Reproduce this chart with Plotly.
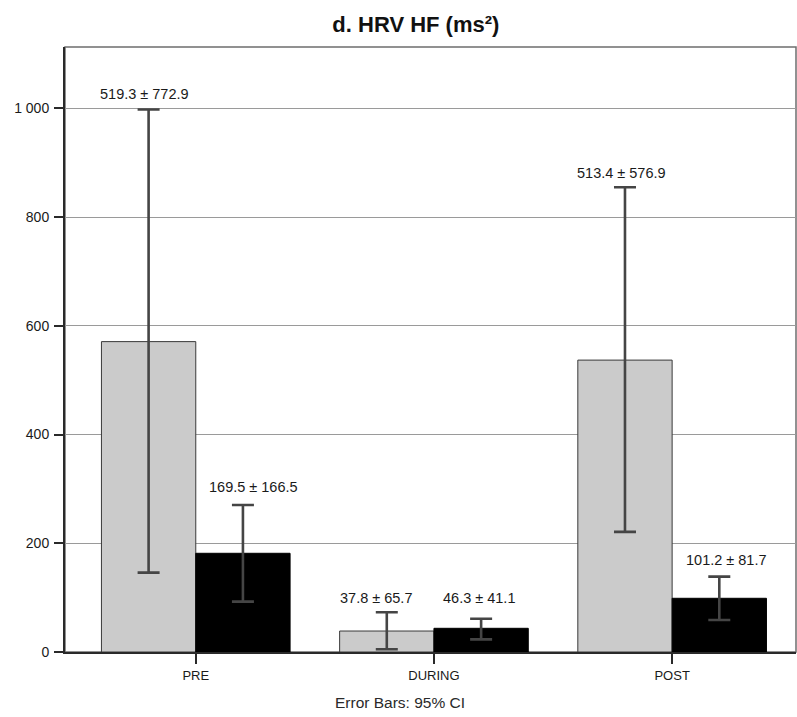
import plotly.graph_objects as go

# Measurement phases
categories = ["PRE", "DURING", "POST"]

# Grey series: bar heights and 95% CI bounds
grey_mean = [571.0, 38.6, 537.0]
grey_ci_high = [998.0, 73.0, 855.0]
grey_ci_low = [146.0, 5.0, 221.0]
grey_labels = ["519.3 ± 772.9", "37.8 ± 65.7", "513.4 ± 576.9"]

# Black series: bar heights and 95% CI bounds
black_mean = [181.6, 43.6, 98.8]
black_ci_high = [270.5, 61.3, 138.6]
black_ci_low = [92.6, 23.3, 58.9]
black_labels = ["169.5 ± 166.5", "46.3 ± 41.1", "101.2 ± 81.7"]

y_ticks = [0, 200, 400, 600, 800, 1000]

FONT = "Liberation Sans, Arial, sans-serif"
ERR_COLOR = "#454545"

# pixel nudges for the value labels (grey, black) per category
grey_shift = [(-4, 16), (-11, 14), (-3, 14)]
black_shift = [(11, 18), (-2, 21), (7, 17)]


def err(mean, hi, lo):
    return dict(
        type="data",
        symmetric=False,
        array=[h - m for h, m in zip(hi, mean)],
        arrayminus=[m - l for m, l in zip(mean, lo)],
        color=ERR_COLOR,
        thickness=2.6,
        width=11,
    )


fig = go.Figure()
fig.add_trace(go.Bar(
    x=categories, y=grey_mean, name="grey",
    marker=dict(color="#cbcbcb", line=dict(color="#3a3a3a", width=1)),
    error_y=err(grey_mean, grey_ci_high, grey_ci_low),
))
fig.add_trace(go.Bar(
    x=categories, y=black_mean, name="black",
    marker=dict(color="#000000", line=dict(color="#000000", width=1)),
    error_y=err(black_mean, black_ci_high, black_ci_low),
))

BAR_W = 0.396  # width of one bar in category units
annotations = []
for i, cat in enumerate(categories):
    for offset, hi, txt, (dx, dy) in (
        (-BAR_W / 2, grey_ci_high[i], grey_labels[i], grey_shift[i]),
        (BAR_W / 2, black_ci_high[i], black_labels[i], black_shift[i]),
    ):
        annotations.append(dict(
            x=i + offset, y=hi, xref="x", yref="y",
            text=txt, showarrow=False,
            xanchor="center", yanchor="middle",
            xshift=dx, yshift=dy,
            font=dict(family=FONT, size=14.5, color="#1a1a1a"),
        ))

annotations.append(dict(
    x=0.458, y=-0.084, xref="paper", yref="paper",
    text="Error Bars: 95% CI", showarrow=False,
    xanchor="center", yanchor="middle",
    font=dict(family=FONT, size=15.5, color="#2a2a2a"),
))

fig.update_layout(
    width=797, height=717,
    margin=dict(l=65, r=1, t=47, b=65),
    paper_bgcolor="white", plot_bgcolor="white",
    barmode="group", bargap=1 - 2 * BAR_W, bargroupgap=0,
    showlegend=False,
    separators=". ",
    title=dict(
        text="<b>d. HRV HF (ms²)</b>",
        x=0.48, xref="paper", xanchor="center",
        y=1 - 24 / 717, yref="container", yanchor="middle",
        font=dict(family=FONT, size=22, color="#111111"),
    ),
    annotations=annotations,
    shapes=[dict(
        type="rect", xref="paper", yref="paper",
        x0=0, x1=1, y0=0, y1=1,
        line=dict(color="#6e6e6e", width=1.5), layer="below",
    )],
)

fig.update_xaxes(
    range=[-0.549, 2.52],
    showgrid=False,
    showline=True, linecolor="#2a2a2a", linewidth=2,
    ticks="outside", ticklen=10, tickwidth=1.5, tickcolor="#2a2a2a",
    tickfont=dict(family=FONT, size=13, color="#1a1a1a"),
)
fig.update_yaxes(
    range=[0, 1113],
    tickvals=y_ticks, tickformat=",d",
    showgrid=True, gridcolor="#9a9a9a", gridwidth=1.2,
    zeroline=False,
    showline=True, linecolor="#2a2a2a", linewidth=2,
    ticks="outside", ticklen=9, tickwidth=2, tickcolor="#2a2a2a",
    tickfont=dict(family=FONT, size=14, color="#1a1a1a"),
    ticklabelstandoff=2,
)

fig.write_html("out.html")
